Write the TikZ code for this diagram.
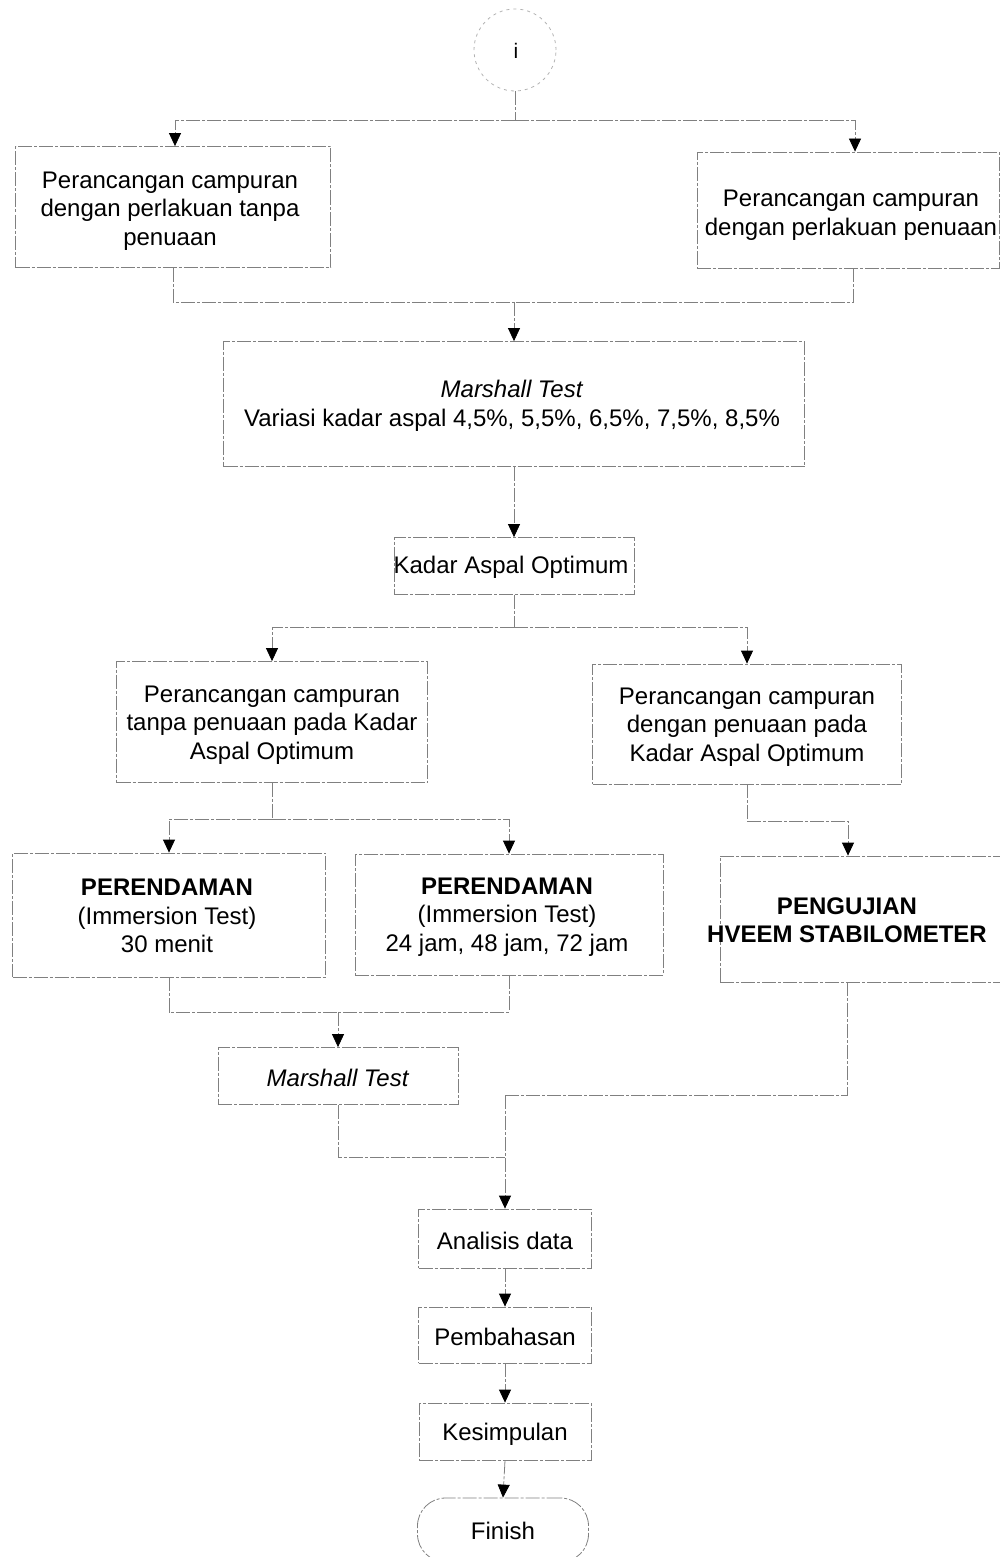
\documentclass[tikz,border=0pt]{standalone}
\usepackage{fontspec}
\setmainfont{Liberation Sans}
\usetikzlibrary{arrows.meta}
\tikzset{
  ln/.style={draw=black!50, line width=0.8pt, dash pattern=on 14pt off 2pt on 3pt off 2pt},
  arr/.style={ln, -{Triangle[length=13pt,width=12pt,color=black]}},
  box/.style={ln, rectangle, inner sep=0pt},
  txt/.style={inner sep=0pt, align=center, font=\fontsize{24}{28.5}\selectfont}
}
% \mkbox{name}{cx}{cy}{w}{h}{text x}{text y}{text}
\newcommand{\mkbox}[8]{%
  \node[box, minimum width=#4pt, minimum height=#5pt] (#1) at (#2,#3) {};
  \node[txt] (#1t) at (#6,#7) {#8};
}
\begin{document}
\begin{tikzpicture}[x=1pt,y=-1pt]
\useasboundingbox (0,0) rectangle (1000,1557);

\node[draw=black!30, line width=0.8pt, dash pattern=on 3pt off 4pt, circle, minimum size=82pt, inner sep=0pt] (start) at (515,50) {};
\node[txt, font=\fontsize{21}{25}\selectfont] (startt) at (516,51) {i};

\mkbox{b1}{173}{207}{315}{121}{170}{211}{Perancangan campuran\\dengan perlakuan tanpa\\penuaan}
\mkbox{b2}{848}{210}{302}{116}{851}{215}{Perancangan campuran\\dengan perlakuan penuaan}

\mkbox{b3}{514}{404}{581}{125}{512}{406}{\textit{Marshall Test}\\Variasi kadar aspal 4,5\%, 5,5\%, 6,5\%, 7,5\%, 8,5\%}

\mkbox{b4}{514}{566}{240}{57}{511}{567}{Kadar Aspal Optimum}

\mkbox{b5}{272}{722}{311}{121}{272}{725}{Perancangan campuran\\tanpa penuaan pada Kadar\\Aspal Optimum}
\mkbox{b6}{747}{724}{309}{120}{747}{727}{Perancangan campuran\\dengan penuaan pada\\Kadar Aspal Optimum}

\mkbox{b7}{169}{915}{313}{124}{167}{916}{\textbf{PERENDAMAN}\\(Immersion Test)\\30 menit}
\mkbox{b8}{509}{914.5}{308}{121}{507}{917}{\textbf{PERENDAMAN}\\(Immersion Test)\\24 jam, 48 jam, 72 jam}
\mkbox{b9}{860}{919}{280}{126}{847}{920}{\textbf{PENGUJIAN}\\\textbf{HVEEM STABILOMETER}}

\mkbox{b10}{338}{1076}{240}{57}{338}{1078}{\textit{Marshall Test}}

\mkbox{b11}{505}{1238.5}{173}{59}{505}{1241}{Analisis data}
\mkbox{b12}{505}{1335}{173}{56}{505}{1337}{Pembahasan}
\mkbox{b13}{505}{1431.5}{172}{57}{505}{1434}{Kesimpulan}
\node[box, minimum width=171pt, minimum height=64pt, rounded corners=28pt] (fin) at (503,1530) {};
\node[txt] (fint) at (503,1531) {Finish};

% junctions
\coordinate (j0) at (515,120);
\coordinate (j1) at (514,302);
\coordinate (j2) at (514,627);
\coordinate (j3) at (272,819);
\coordinate (j4) at (747,821);
\coordinate (j5) at (338,1012);
\coordinate (j6) at (505,1095);
\coordinate (j7) at (505,1157);

\draw[ln] (start.south) -- (j0);
\draw[arr] (j0) -| ([xshift=2pt]b1.north);
\draw[arr] (j0) -| ([xshift=7pt]b2.north);

\draw[ln] (b1.south) |- (j1);
\draw[ln] ([xshift=5pt]b2.south) |- (j1);
\draw[arr] (j1) -- (b3.north);

\draw[arr] (b3.south) -- (b4.north);

\draw[ln] (b4.south) -- (j2);
\draw[arr] (j2) -| (b5.north);
\draw[arr] (j2) -| (b6.north);

\draw[ln] (b5.south) -- (j3);
\draw[arr] (j3) -| (b7.north);
\draw[arr] (j3) -| (b8.north);

\draw[ln] (b6.south) -- (j4);
\draw[arr] (j4) -| ([xshift=-12pt]b9.north);

\draw[ln] (b7.south) |- (j5);
\draw[ln] (b8.south) |- (j5);
\draw[arr] (j5) -- (b10.north);

\draw[ln] ([xshift=-13pt]b9.south) |- (j6);
\draw[ln] (b10.south) |- (j7);
\draw[arr] (j6) -- (b11.north);

\draw[arr] (b11.south) -- (b12.north);
\draw[arr] (b12.south) -- (b13.north);
\draw[arr] (b13.south) -- (fin.north);
\end{tikzpicture}
\end{document}
